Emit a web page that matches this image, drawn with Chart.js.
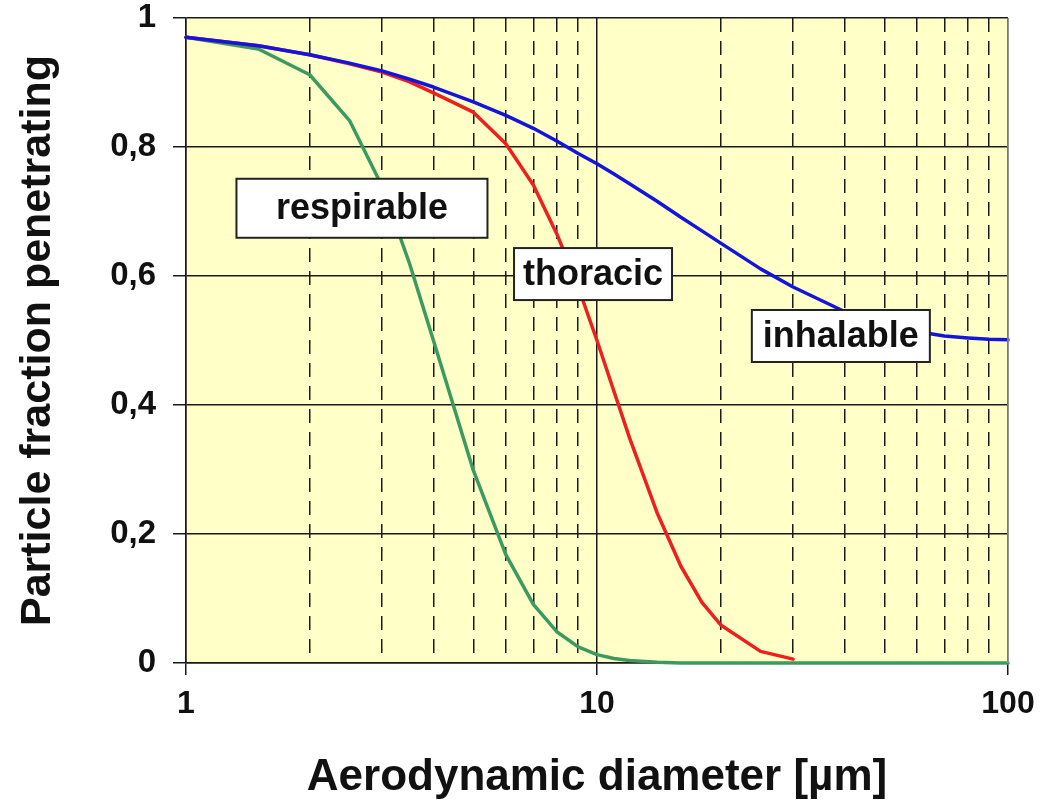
<!DOCTYPE html>
<html>
<head>
<meta charset="utf-8">
<script src="https://cdn.jsdelivr.net/npm/chart.js@4/dist/chart.umd.min.js"></script>
<style>
  html, body { margin: 0; padding: 0; background: #fff; }
  #wrap { width: 1053px; height: 807px; }
</style>
</head>
<body>
<div id="wrap"><canvas id="chart" width="1053" height="807"></canvas></div>
<script>

// aerodynamic diameter [µm]
const diameters = [1, 1.5, 2, 2.5, 3, 3.5, 4, 5, 6, 7, 8, 9, 10, 11, 12, 14, 16, 18, 20, 25, 30, 40, 50, 60, 70, 80, 90, 100];

// fractions
const inhalable = [0.970, 0.957, 0.943, 0.930, 0.918, 0.905, 0.893, 0.870, 0.849, 0.829, 0.809, 0.790, 0.774, 0.758, 0.743, 0.716, 0.691, 0.670, 0.651, 0.611, 0.583, 0.545, 0.525, 0.514, 0.507, 0.504, 0.502, 0.501];
const thoracic  = [0.970, 0.957, 0.943, 0.929, 0.916, 0.901, 0.884, 0.854, 0.805, 0.741, 0.664, 0.583, 0.500, 0.421, 0.349, 0.233, 0.150, 0.094, 0.059, 0.018, 0.006, null, null, null, null, null, null, null];
const respirable = [0.970, 0.952, 0.912, 0.841, 0.739, 0.619, 0.500, 0.299, 0.168, 0.091, 0.048, 0.025, 0.013, 0.007, 0.004, 0.001, 0, 0, 0, 0, 0, 0, 0, 0, 0, 0, 0, 0];

// grid positions on the log axis and the ones that get a label
const xGrid = [1, 2, 3, 4, 5, 6, 7, 8, 9, 10, 20, 30, 40, 50, 60, 70, 80, 90, 100];
const xLabels = [1, 10, 100];
const yTicks = [0, 0.2, 0.4, 0.6, 0.8, 1];

const curveLabels = ["respirable", "thoracic", "inhalable"];
const labelX = [2.68, 9.78, 39.2];
const labelY = [0.705, 0.603, 0.507];
const labelW = [251, 158, 178];
const labelH = [59, 52, 52];

const FONT = "'Liberation Sans', Arial, Helvetica, sans-serif";

function pts(ys) {
    return diameters.map((d, i) => ({ x: d, y: ys[i] }));
}

const plotBg = {
    id: "plotBg",
    beforeDraw(c) {
        const a = c.chartArea;
        const ctx = c.ctx;
        ctx.save();
        ctx.fillStyle = "#ffffc8";
        ctx.fillRect(a.left, a.top, a.right - a.left, a.bottom - a.top);
        ctx.restore();
    },
    afterDraw(c) {
        const a = c.chartArea;
        const ctx = c.ctx;
        ctx.save();
        ctx.strokeStyle = "#9a9a9a";
        ctx.lineWidth = 1.5;
        ctx.beginPath();
        ctx.moveTo(a.right, a.top);
        ctx.lineTo(a.right, a.bottom);
        ctx.stroke();
        ctx.restore();
    }
};

const boxes = {
    id: "boxes",
    afterDatasetsDraw(c) {
        const ctx = c.ctx;
        const xs = c.scales.x;
        const ys = c.scales.y;
        ctx.save();
        ctx.font = "bold 36px " + FONT;
        ctx.textAlign = "center";
        ctx.textBaseline = "middle";
        curveLabels.forEach((t, i) => {
            const cx = xs.getPixelForValue(labelX[i]);
            const cy = ys.getPixelForValue(labelY[i]);
            const w = labelW[i], h = labelH[i];
            ctx.fillStyle = "#ffffff";
            ctx.fillRect(cx - w / 2, cy - h / 2, w, h);
            ctx.strokeStyle = "#222";
            ctx.lineWidth = 2;
            ctx.strokeRect(cx - w / 2, cy - h / 2, w, h);
            ctx.fillStyle = "#111";
            ctx.fillText(t, cx, cy + 1);
        });
        ctx.restore();
    }
};

new Chart(document.getElementById("chart"), {
    type: "line",
    data: {
        datasets: [
            { label: "inhalable", data: pts(inhalable), borderColor: "#1414dc", borderWidth: 3.5 },
            { label: "thoracic", data: pts(thoracic), borderColor: "#ee1f1f", borderWidth: 3.5 },
            { label: "respirable", data: pts(respirable), borderColor: "#3c9a60", borderWidth: 3.5 }
        ]
    },
    options: {
        responsive: false,
        animation: false,
        devicePixelRatio: 1,
        spanGaps: false,
        elements: {
            point: { radius: 0 },
            line: { tension: 0, borderCapStyle: "round", borderJoinStyle: "round" }
        },
        datasets: { line: { clip: 5 } },
        layout: { padding: { left: 0, top: 18, right: 45, bottom: 0 } },
        plugins: {
            legend: { display: false },
            tooltip: { enabled: false }
        },
        scales: {
            x: {
                type: "logarithmic",
                min: 1,
                max: 100,
                afterBuildTicks(s) {
                    s.ticks = xGrid.map(v => ({ value: v, major: xLabels.includes(v) }));
                },
                afterFit(s) { s.height = 144; },
                grid: {
                    color: "#1a1a1a",
                    lineWidth: 1.5,
                    tickColor: c => (xLabels.includes(c.tick && c.tick.value) ? "#1a1a1a" : "rgba(0,0,0,0)"),
                    tickLength: 12
                },
                border: {
                    color: "#1a1a1a",
                    width: 1.5,
                    dash: c => (xLabels.includes(c.tick && c.tick.value) ? [] : [14, 9])
                },
                ticks: {
                    autoSkip: false,
                    maxRotation: 0,
                    padding: 10,
                    color: "#111",
                    font: { family: FONT, size: 32, weight: "bold" },
                    callback: v => (xLabels.includes(v) ? String(v) : "")
                },
                title: {
                    display: true,
                    text: "Aerodynamic diameter [µm]",
                    color: "#111",
                    font: { family: FONT, size: 44, weight: "bold" },
                    padding: { top: 0, bottom: 3 }
                }
            },
            y: {
                min: 0,
                max: 1,
                afterBuildTicks(s) {
                    s.ticks = yTicks.map(v => ({ value: v }));
                },
                afterFit(s) {
                    s.width = 186;
                    s.paddingTop = 0;
                    s.paddingBottom = 0;
                },
                grid: {
                    color: "#1a1a1a",
                    lineWidth: 1.5,
                    tickLength: 13
                },
                border: { color: "#1a1a1a", width: 1.5 },
                ticks: {
                    padding: 17,
                    color: "#111",
                    font: { family: FONT, size: 33, weight: "bold" },
                    callback: v => (v === 0 || v === 1 ? String(v) : v.toFixed(1).replace(".", ","))
                },
                title: {
                    display: true,
                    text: "Particle fraction penetrating",
                    color: "#111",
                    font: { family: FONT, size: 43, weight: "bold" },
                    padding: { top: 12, bottom: 0 }
                }
            }
        }
    },
    plugins: [plotBg, boxes]
});
</script>
</body>
</html>
